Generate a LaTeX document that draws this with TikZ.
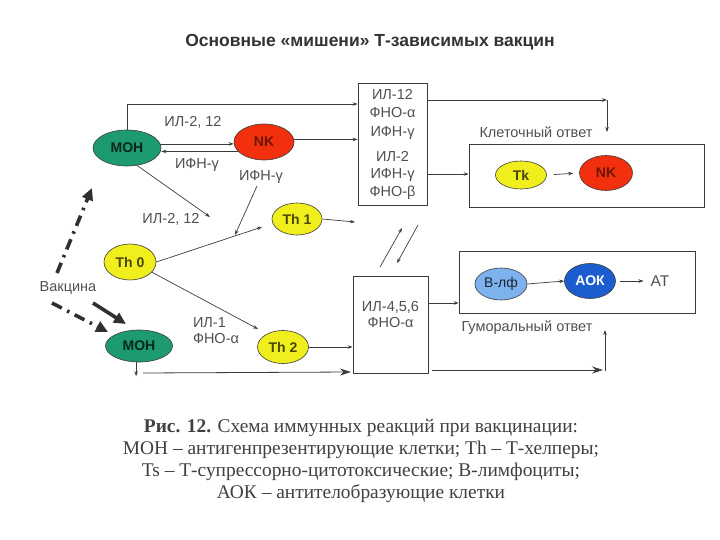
\documentclass[tikz,border=0pt]{standalone}
\usepackage{fontspec}
\setmainfont{Liberation Serif}
\setsansfont{Liberation Sans}
\usetikzlibrary{arrows.meta,shapes.geometric}
\definecolor{mongreen}{HTML}{1E9B6E}
\definecolor{nkred}{HTML}{F2300E}
\definecolor{thyel}{HTML}{F0EE1C}
\definecolor{lblue}{HTML}{7EB2EE}
\definecolor{dblue}{HTML}{1B5CCF}
\definecolor{linec}{HTML}{3C3C3C}
\definecolor{txtc}{HTML}{505050}
\tikzset{
  cell/.style={ellipse,draw=linec,line width=0.6pt,inner sep=0pt,font=\sffamily\bfseries\fontsize{14}{14}\selectfont},
  lbl/.style={font=\sffamily\fontsize{14.5}{16}\selectfont,text=txtc,inner sep=1pt},
  boxx/.style={draw=linec,line width=0.7pt,inner sep=0pt},
  arr/.style={draw=linec,line width=0.7pt,-{Stealth[length=5pt,width=3.5pt]}},
  bigarr/.style={draw=linec,line width=0.8pt,-{Stealth[length=11pt,width=7pt]}},
  vacc/.style={draw=linec!80!black,line width=3.6pt,-{Triangle[length=12pt,width=11pt]}},
  dashdot/.style={dash pattern=on 11pt off 6pt on 2.5pt off 6pt},
}
\begin{document}
\begin{tikzpicture}[x=1pt,y=-1pt]
\useasboundingbox (0,0) rectangle (720,540);
\fill[white] (0,0) rectangle (720,540);
% title
\node[font=\sffamily\bfseries\fontsize{17.5}{18}\selectfont,text=black!80] (title) at (370,42) {Основные «мишени» Т-зависимых вакцин};
% cells
\node[cell,fill=mongreen,text=black!75!mongreen,minimum width=68,minimum height=36] (mon1) at (127,148) {МОН};
\node[cell,fill=nkred,text=black!55!nkred,minimum width=60,minimum height=36] (nk1) at (264,142) {NK};
\node[cell,fill=thyel,text=black!70!thyel,minimum width=50,minimum height=32] (th1) at (297,219) {Th 1};
\node[cell,fill=thyel,text=black!70!thyel,minimum width=52,minimum height=36] (th0) at (130,262) {Th 0};
\node[cell,fill=thyel,text=black!70!thyel,minimum width=51,minimum height=33] (th2) at (283,347) {Th 2};
\node[cell,fill=mongreen,text=black!75!mongreen,minimum width=67,minimum height=32] (mon2) at (139,346) {МОН};
% boxes
\node[boxx,minimum width=69,minimum height=122] (box1) at (392.5,144) {};
\node[lbl,align=center,font=\sffamily\fontsize{14.5}{18.5}\selectfont] (box1a) at (392.5,114) {ИЛ-12\\ФНО-α\\ИФН-γ};
\node[lbl,align=center,font=\sffamily\fontsize{14.5}{17.5}\selectfont] (box1b) at (392.5,175) {ИЛ-2\\ИФН-γ\\ФНО-β};
\node[boxx,minimum width=75,minimum height=97] (box2) at (390.5,324.5) {};
\node[lbl,align=center,font=\sffamily\fontsize{14.5}{16}\selectfont] (box2a) at (390.5,315) {ИЛ-4,5,6\\ФНО-α};
\node[boxx,minimum width=235,minimum height=63] (cellbox) at (586.5,175.5) {};
\node[boxx,minimum width=236,minimum height=62] (humbox) at (577,282) {};
\node[cell,fill=thyel,text=black!70!thyel,minimum width=51,minimum height=28] (tk) at (521,175) {Tk};
\node[cell,fill=nkred,text=black!55!nkred,minimum width=53,minimum height=35] (nk2) at (606,173) {NK};
\node[cell,fill=lblue,text=black!80!lblue,minimum width=52,minimum height=32,font=\sffamily\fontsize{14}{14}\selectfont] (blf) at (501,284) {В-лф};
\node[cell,fill=dblue,text=white,minimum width=51,minimum height=35] (aok) at (590,281) {АОК};
\node[lbl,font=\sffamily\fontsize{15.5}{16}\selectfont] (at) at (660,281) {АТ};
% labels
\node[lbl] (l1) at (193,122) {ИЛ-2, 12};
\node[lbl] (l2) at (197,165) {ИФН-γ};
\node[lbl] (l3) at (261,177) {ИФН-γ};
\node[lbl] (l4) at (171,219) {ИЛ-2, 12};
\node[lbl,align=left] (l5) at (216,331) {ИЛ-1\\ФНО-α};
\node[lbl] (l6) at (536,132) {Клеточный ответ};
\node[lbl] (l7) at (527,328) {Гуморальный ответ};
\node[lbl] (l8) at (68,288) {Вакцина};
% coordinates
\coordinate (c1) at (127,104);
\coordinate (ifnA) at (257,186);
\coordinate (j1) at (235,235);
\coordinate (il2end) at (210,217);
\coordinate (t1in) at (262,227);
\coordinate (t2in) at (258,329);
\coordinate (t1out) at (355,222);
\coordinate (hb1) at (143,373);
\coordinate (hb2) at (351,372);
\coordinate (b2o) at (432,370);
\coordinate (b2r) at (603,370);
\coordinate (b2u1) at (605,371);
\coordinate (b2u2) at (605,330);
\coordinate (c2) at (607,100);
\coordinate (c3) at (607,132);
\coordinate (d1a) at (380,267);
\coordinate (d1b) at (402,228);
\coordinate (d2a) at (418,225);
\coordinate (d2b) at (397,263);
\coordinate (va1) at (57,273);
\coordinate (va2) at (92,188);
\coordinate (vb1) at (52,303);
\coordinate (vb2) at (108,332);
\coordinate (vc1) at (93,303);
\coordinate (vc2) at (126,324);
% connectors
\draw[arr] (mon1.north) -- (c1) -- (c1 -| box1.west);
\draw[arr] (mon1.7) -- (mon1.7 -| nk1.west);
\draw[arr] (nk1.200) -- (nk1.200 -| mon1.east);
\draw[arr] (nk1.5) -- (nk1.5 -| box1.west);
\draw[arr] (ifnA) -- (j1);
\draw[arr] (mon1.300) -- (il2end);
\draw[arr] (th0.east) -- (t1in);
\draw[arr] (th0.335) -- (t2in);
\draw[arr] (th1.east) -- (t1out);
\draw[arr] (th2.east) -- (th2.east -| box2.west);
\draw[arr] (mon2.260) -- ++(0,14);
\draw[bigarr] (hb1) -- (hb2);
\draw[bigarr] (b2o) -- (b2r);
\draw[arr] (b2u1) -- (b2u2);
\draw[arr] ([yshift=21.5pt]box2.east) -- ([yshift=21.5pt]box2.east -| humbox.west);
\draw[arr] ([yshift=44pt]box1.east) -- (c2);
\draw[arr] (c2) -- (c3);
\draw[arr] ([yshift=-30pt]box1.east) -- ([yshift=-30pt]box1.east -| cellbox.west);
\draw[arr,shorten <=7pt,shorten >=6pt] (tk.east) -- (nk2.west);
\draw[arr] (blf.east) -- (aok.west);
\draw[arr,shorten <=4pt,shorten >=6pt] (aok.east) -- (at.west);
\draw[arr] (d1a) -- (d1b);
\draw[arr] (d2a) -- (d2b);
\draw[vacc,dashdot] (va1) -- (va2);
\draw[vacc,dashdot] (vb1) -- (vb2);
\draw[vacc] (vc1) -- (vc2);
% caption
\node[font=\fontsize{19.4}{22.2}\selectfont,text=black!75,align=center] (cap) at (361,461)
{\textbf{Рис. 12.} Схема иммунных реакций при вакцинации:\\
МОН – антигенпрезентирующие клетки; Th – Т-хелперы;\\
Ts – Т-супрессорно-цитотоксические; В-лимфоциты;\\
АОК – антителобразующие клетки};
\end{tikzpicture}
\end{document}
